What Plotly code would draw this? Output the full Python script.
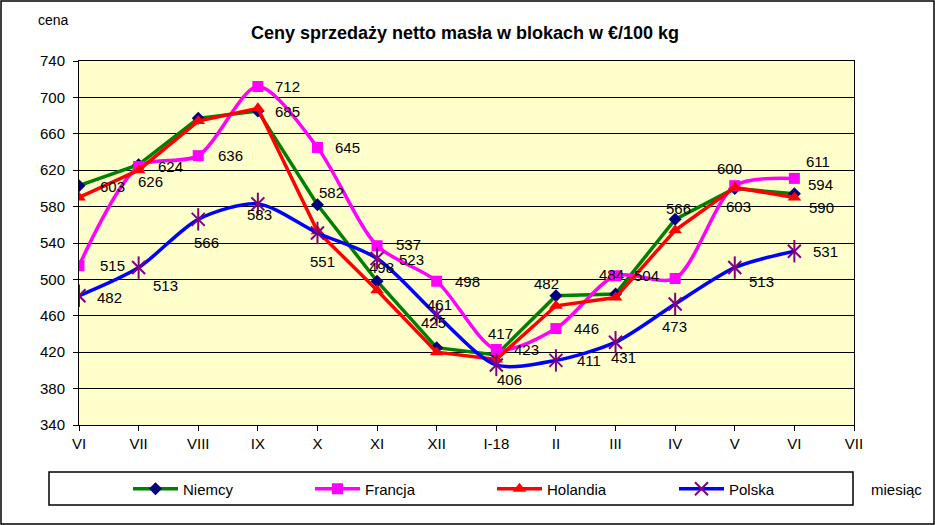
import plotly.graph_objects as go

months = ["VI", "VII", "VIII", "IX", "X", "XI", "XII", "I-18", "II", "III", "IV", "V", "VI", "VII"]
niemcy = [603, 626, 677, 685, 582, 498, 425, 417, 482, 484, 566, 600, 594]
francja = [515, 624, 636, 712, 645, 537, 498, 423, 446, 504, 501, 603, 611]
holandia = [590, 620, 674, 688, 553, 488, 420, 412, 471, 480, 554, 601, 590]
polska = [482, 513, 566, 583, 551, 523, 461, 406, 411, 431, 473, 513, 531]

# which points carry a visible value label
niemcy_lbl = [1, 1, 0, 1, 1, 1, 1, 1, 1, 1, 1, 1, 1]
francja_lbl = [1, 1, 1, 1, 1, 1, 1, 1, 1, 1, 0, 1, 1]
holandia_lbl = [0, 0, 0, 0, 0, 0, 0, 0, 0, 0, 0, 0, 1]
polska_lbl = [1] * 13

# label pixel offsets (dx right, dy down)
niemcy_off = [(33, 1), (12, 17), (0, 0), (30, 0), (14, -12), (4, -14), (-3, -25),
              (4, -21), (-9, -12), (-4, -19), (3, -11), (-5, -20), (26, -9)]
francja_off = [(33, 0), (32, 0), (32, 0), (30, 0), (30, 0), (31, -1), (31, 0),
               (30, 0), (31, 0), (31, 0), (0, 0), (4, 21), (24, -17)]
holandia_off = [(0, 0)] * 12 + [(27, 10)]
polska_off = [(30, 2), (27, 18), (8, 23), (2, 11), (5, 29), (34, 1), (3, -10),
              (13, 15), (33, 0), (8, 15), (-1, 23), (27, 14), (31, 0)]

FONT = "Liberation Sans, Arial, sans-serif"
xs = list(range(len(niemcy)))

fig = go.Figure()
fig.add_trace(go.Scatter(x=xs, y=niemcy, name="Niemcy", mode="lines+markers",
                         line=dict(color="#008000", width=3.5),
                         marker=dict(symbol="diamond", size=10, color="#000080")))
fig.add_trace(go.Scatter(x=xs, y=francja, name="Francja", mode="lines+markers",
                         line=dict(color="#FF00FF", width=3.5, shape="spline", smoothing=0.8),
                         marker=dict(symbol="square", size=11, color="#FF00FF")))
fig.add_trace(go.Scatter(x=xs, y=holandia, name="Holandia", mode="lines+markers",
                         line=dict(color="#FF0000", width=3.5),
                         marker=dict(symbol="triangle-up", size=12, color="#FF0000")))
fig.add_trace(go.Scatter(x=xs, y=polska, name="Polska", mode="lines+markers",
                         line=dict(color="#0000FF", width=3.5, shape="spline", smoothing=0.8),
                         marker=dict(symbol="x-thin-open", size=13, color="#800080",
                                     line=dict(color="#800080", width=2)),
                         legendgroup="pl"))
fig.add_trace(go.Scatter(x=xs, y=polska, name="Polska", mode="markers", showlegend=False,
                         marker=dict(symbol="line-ns-open", size=16, color="#800080",
                                     line=dict(color="#800080", width=2)),
                         legendgroup="pl", hoverinfo="skip"))

L, R, T, B = 79, 81, 61, 100
W, H = 935, 525
PW, PH = W - L - R, H - T - B


def px_x(p):
    return (p - L) / PW


def px_y(p):
    return (H - B - p) / PH


annotations = []
for vals, flags, offs in [(niemcy, niemcy_lbl, niemcy_off), (francja, francja_lbl, francja_off),
                          (holandia, holandia_lbl, holandia_off), (polska, polska_lbl, polska_off)]:
    for i, (v, f, o) in enumerate(zip(vals, flags, offs)):
        if f:
            annotations.append(dict(x=i, y=v, xref="x", yref="y", text=str(v), showarrow=False,
                                    xshift=o[0], yshift=-o[1],
                                    font=dict(family=FONT, size=15, color="#000000")))

annotations.append(dict(text="cena", x=px_x(53), y=px_y(20), xref="paper", yref="paper",
                        xanchor="center", yanchor="middle", showarrow=False,
                        font=dict(family=FONT, size=14, color="#000000")))
annotations.append(dict(text="miesiąc", x=px_x(896), y=px_y(489), xref="paper", yref="paper",
                        xanchor="center", yanchor="middle", showarrow=False,
                        font=dict(family=FONT, size=15, color="#000000")))

shapes = [
    dict(type="rect", xref="paper", yref="paper", x0=px_x(49), x1=px_x(853), y0=px_y(505), y1=px_y(472),
         line=dict(color="#000000", width=1.5), fillcolor="rgba(0,0,0,0)"),
    dict(type="rect", xref="paper", yref="paper", x0=px_x(1), x1=px_x(934), y0=px_y(524), y1=px_y(1),
         line=dict(color="#000000", width=1.5), fillcolor="rgba(0,0,0,0)"),
]

fig.update_layout(
    width=W, height=H,
    margin=dict(l=L, r=R, t=T, b=B),
    paper_bgcolor="#FFFFFF",
    plot_bgcolor="#FFFFCC",
    font=dict(family=FONT, size=15, color="#000000"),
    title=dict(text="<b>Ceny sprzedaży netto masła w blokach w €/100 kg</b>",
               x=465 / W, xanchor="center", y=1 - 33 / H, yanchor="middle",
               font=dict(family=FONT, size=18, color="#000000")),
    xaxis=dict(range=[0, len(months) - 1], tickmode="array", tickvals=list(range(len(months))),
               ticktext=months, showgrid=False, zeroline=False, showline=True, linecolor="#000000",
               linewidth=1, mirror=True, ticks="outside", ticklen=5, tickcolor="#000000",
               tickfont=dict(family=FONT, size=15)),
    yaxis=dict(range=[340, 740], dtick=40, tick0=340, showgrid=True, gridcolor="#000000", gridwidth=1,
               zeroline=False, showline=True, linecolor="#000000", linewidth=1, mirror=True,
               ticks="outside", ticklen=5, tickcolor="#000000", ticklabelstandoff=5,
               tickfont=dict(family=FONT, size=15)),
    legend=dict(orientation="h", x=px_x(128), xanchor="left", y=px_y(489), yanchor="middle",
                bgcolor="rgba(0,0,0,0)", borderwidth=0, itemwidth=45, entrywidth=122,
                entrywidthmode="pixels", font=dict(family=FONT, size=15), itemclick=False),
    annotations=annotations,
    shapes=shapes,
    showlegend=True,
)

fig.write_html("out.html", config={"displayModeBar": False},
               post_script="document.body.style.margin='0px';")
